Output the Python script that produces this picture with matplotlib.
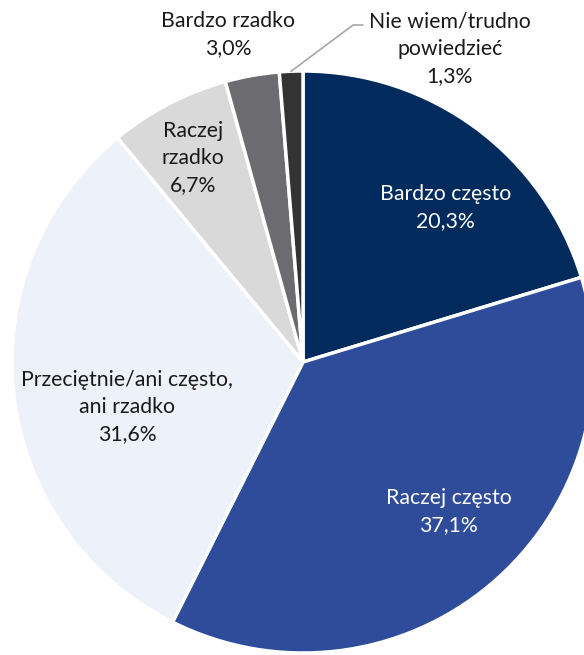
import matplotlib
matplotlib.use("Agg")
import matplotlib.pyplot as plt
import numpy as np

plt.rcParams['font.family'] = ['Lato', 'DejaVu Sans']

# odpowiedzi i udziały (%)
categories = ["Bardzo często", "Raczej często", "Przeciętnie/ani często,\nani rzadko",
              "Raczej\nrzadko", "Bardzo rzadko", "Nie wiem/trudno\npowiedzieć"]
shares = [20.3, 37.1, 31.6, 6.7, 3.0, 1.3]
colors = ["#002B5C", "#2F4C9A", "#EDF2FA", "#D9D9D9", "#6C6C70", "#333333"]
text_colors = ["white", "white", "#1a1a1a", "#1a1a1a", "#1a1a1a", "#1a1a1a"]

# położenie etykiet (w jednostkach promienia)
label_pos = [(0.49, 0.53), (0.50, -0.515), (-0.605, -0.155),
             (-0.378, 0.70), (-0.258, 1.124), (0.505, 1.077)]

fig = plt.figure(figsize=(5.84, 6.55), dpi=100)
ax = fig.add_axes([12 / 584, 2 / 655, 582 / 584, 582 / 655])

wedges, _ = ax.pie(shares, colors=colors, startangle=90, counterclock=False,
                   wedgeprops=dict(edgecolor="white", linewidth=2.5))
ax.set_xlim(-1, 1)
ax.set_ylim(-1, 1)
ax.set_aspect("equal")
ax.axis("off")

for i, (cat, val) in enumerate(zip(categories, shares)):
    txt = f"{cat}\n{val:.1f}%".replace(".", ",")
    ax.text(label_pos[i][0], label_pos[i][1], txt, ha="center", va="center",
            color=text_colors[i], fontsize=15.3, linespacing=1.45, clip_on=False)

# linia odniesienia do najmniejszego wycinka
w = wedges[-1]
mid = np.deg2rad((w.theta1 + w.theta2) / 2)
x0, y0 = np.cos(mid), np.sin(mid)
ax.plot([x0, 0.172, 0.205], [y0, 1.158, 1.158], color="#A6A6A6", lw=1.2, clip_on=False)

fig.savefig("out.png", dpi=100)
